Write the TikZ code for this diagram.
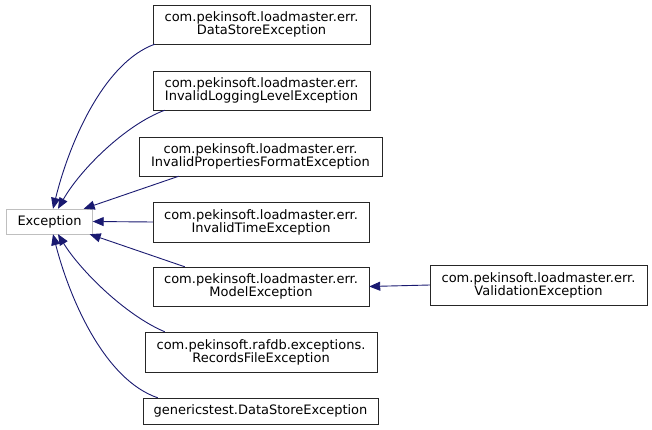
\documentclass[tikz,border=0pt]{standalone}
\usepackage{fontspec}
\setmainfont{DejaVu Sans}
\usepackage{xcolor}
\usepackage{tikz}
\usetikzlibrary{arrows.meta, positioning, calc}
\definecolor{edgeblue}{HTML}{191970}
\definecolor{basegray}{HTML}{BFBFBF}
\tikzset{
    cls/.style={draw=black!85, fill=white, inner sep=0pt, align=center,
        font=\fontsize{13}{13}\selectfont},
    inh/.style={edgeblue, line width=0.9pt, -{Triangle[length=11pt, width=9pt]}}
}

\begin{document}
\begin{tikzpicture}[x=1pt, y=-1pt]
    \useasboundingbox (0,0) rectangle (652,430);

    \node[cls, draw=basegray, minimum width=86pt, minimum height=25pt] (exc) at (49.5, 221.5) {Exception};

    \node[cls, minimum width=217pt, minimum height=39pt] (ds) at (261.5, 24.5) {com.pekinsoft.loadmaster.err.\\DataStoreException};
    \node[cls, minimum width=217pt, minimum height=39pt] (ill) at (261.5, 90.5) {com.pekinsoft.loadmaster.err.\\InvalidLoggingLevelException};
    \node[cls, minimum width=243pt, minimum height=39pt] (ipf) at (260.5, 156.5) {com.pekinsoft.loadmaster.err.\\InvalidPropertiesFormatException};
    \node[cls, minimum width=216pt, minimum height=40pt] (it) at (261, 222) {com.pekinsoft.loadmaster.err.\\InvalidTimeException};
    \node[cls, minimum width=216pt, minimum height=39pt] (me) at (261, 286.5) {com.pekinsoft.loadmaster.err.\\ModelException};
    \node[cls, minimum width=232pt, minimum height=40pt] (rf) at (261, 352) {com.pekinsoft.rafdb.exceptions.\\RecordsFileException};
    \node[cls, minimum width=235pt, minimum height=26pt] (gt) at (260.5, 411) {genericstest.DataStoreException};
    \node[cls, minimum width=217pt, minimum height=40pt] (ve) at (538.5, 285) {com.pekinsoft.loadmaster.err.\\ValidationException};

    % inheritance edges
    \draw[inh] ([xshift=2pt]ds.south west) .. controls (105,62) and (70,140) .. ([xshift=3.5pt]exc.north);
    \draw[inh] ([xshift=12pt]ill.south west) .. controls (125,125) and (80,170) .. ([xshift=8.5pt]exc.north);
    \draw[inh] ([xshift=40pt]ipf.south west) -- ([xshift=-9pt]exc.north east);
    \draw[inh] (it.west) -- (exc.east);
    \draw[inh] ([xshift=32pt]me.north west) -- ([xshift=-3pt]exc.south east);
    \draw[inh] ([xshift=20pt]rf.north west) .. controls (125,315) and (80,270) .. ([xshift=8.5pt]exc.south);
    \draw[inh] ([xshift=15pt]gt.north west) .. controls (105,380) and (70,300) .. ([xshift=3.5pt]exc.south);
    \draw[inh] (ve.west) -- (me.east);
\end{tikzpicture}
\end{document}
